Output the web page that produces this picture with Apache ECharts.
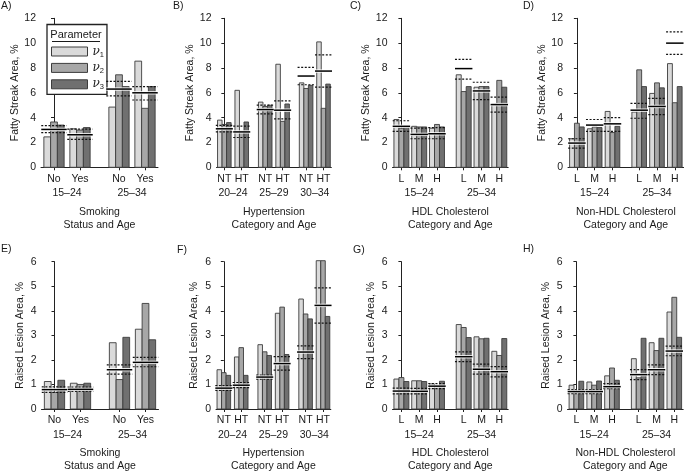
<!DOCTYPE html>
<html><head><meta charset="utf-8">
<script src="https://cdn.jsdelivr.net/npm/echarts@6/dist/echarts.min.js"></script>
<style>html,body{margin:0;padding:0;background:#fff}#c{width:684px;height:474px}</style>
</head><body><div id="c"></div>
<script>
// ================= DATA =================
const SERIES_NAMES = ['ν1', 'ν2', 'ν3'];

// A) Smoking status and age – fatty streak
const A_cats = ['No', 'Yes', 'No', 'Yes'];
const A_ages = ['15–24', '25–34'];
const A_v1 = [2.45, 3.1, 4.85, 8.55];
const A_v2 = [3.65, 3.0, 7.45, 4.75];
const A_v3 = [3.4, 3.2, 6.5, 6.5];
const A_mean = [3.05, 2.62, 6.3, 6.0];
const A_lo = [2.8, 2.25, 5.75, 5.42];
const A_hi = [3.35, 3.08, 6.92, 6.5];

// B) Hypertension category and age – fatty streak
const B_cats = ['NT', 'HT', 'NT', 'HT', 'NT', 'HT'];
const B_ages = ['20–24', '25–29', '30–34'];
const B_v1 = [3.8, 6.2, 5.25, 8.3, 6.8, 10.1];
const B_v2 = [3.45, 2.9, 4.9, 3.7, 6.35, 4.75];
const B_v3 = [3.6, 3.65, 5.0, 5.1, 6.6, 6.7];
const B_mean = [3.1, 2.85, 4.65, 4.6, 7.35, 7.75];
const B_lo = [2.85, 2.4, 4.3, 3.9, 6.65, 6.45];
const B_hi = [3.38, 3.32, 5.0, 5.35, 8.05, 9.05];

// C) HDL cholesterol category and age – fatty streak
const C_cats = ['L', 'M', 'H', 'L', 'M', 'H'];
const C_ages = ['15–24', '25–34'];
const C_v1 = [3.85, 3.3, 3.15, 7.45, 6.45, 5.1];
const C_v2 = [3.15, 3.25, 3.45, 6.1, 6.5, 7.0];
const C_v3 = [3.3, 3.25, 3.25, 6.5, 6.5, 6.45];
const C_mean = [3.3, 2.65, 2.7, 7.95, 6.15, 5.05];
const C_lo = [2.9, 2.3, 2.3, 7.1, 5.45, 4.45];
const C_hi = [3.75, 3.15, 3.2, 8.7, 6.85, 5.65];

// D) Non-HDL cholesterol category and age – fatty streak
const D_cats = ['L', 'M', 'H', 'L', 'M', 'H'];
const D_ages = ['15–24', '25–34'];
const D_v1 = [2.3, 3.1, 4.5, 4.45, 5.95, 8.35];
const D_v2 = [3.55, 3.25, 2.8, 7.85, 6.8, 5.2];
const D_v3 = [3.25, 3.2, 3.3, 6.5, 6.4, 6.5];
const D_mean = [1.95, 3.4, 3.5, 4.6, 4.9, 10.0];
const D_lo = [1.55, 2.9, 2.9, 3.95, 4.25, 9.1];
const D_hi = [2.3, 3.85, 4.0, 5.15, 5.55, 10.9];

// E) Smoking status and age – raised lesion
const E_cats = ['No', 'Yes', 'No', 'Yes'];
const E_ages = ['15–24', '25–34'];
const E_v1 = [1.12, 1.05, 2.7, 3.25];
const E_v2 = [0.68, 1.0, 1.2, 4.3];
const E_v3 = [1.17, 1.05, 2.92, 2.82];
const E_mean = [0.79, 0.8, 1.6, 1.9];
const E_lo = [0.68, 0.72, 1.42, 1.72];
const E_hi = [0.9, 0.89, 1.8, 2.1];

// F) Hypertension category and age – raised lesion
const F_cats = ['NT', 'HT', 'NT', 'HT', 'NT', 'HT'];
const F_ages = ['20–24', '25–29', '30–34'];
const F_v1 = [1.6, 2.12, 2.62, 3.9, 4.48, 7.3];
const F_v2 = [1.48, 2.5, 2.33, 4.15, 3.87, 6.6];
const F_v3 = [1.37, 1.37, 2.18, 2.22, 3.67, 3.77];
const F_mean = [0.85, 0.97, 1.3, 1.85, 2.32, 4.22];
const F_lo = [0.76, 0.87, 1.22, 1.58, 2.05, 3.5];
const F_hi = [0.95, 1.08, 1.38, 2.13, 2.57, 4.93];

// G) HDL cholesterol category and age – raised lesion
const G_cats = ['L', 'M', 'H', 'L', 'M', 'H'];
const G_ages = ['15–24', '25–34'];
const G_v1 = [1.22, 1.15, 1.02, 3.44, 2.94, 2.35];
const G_v2 = [1.28, 1.15, 0.96, 3.32, 2.86, 2.18];
const G_v3 = [1.12, 1.12, 1.13, 2.91, 2.88, 2.87];
const G_mean = [0.73, 0.72, 0.93, 2.13, 1.62, 1.52];
const G_lo = [0.62, 0.62, 0.83, 1.93, 1.42, 1.31];
const G_hi = [0.85, 0.84, 1.03, 2.33, 1.83, 1.73];

// H) Non-HDL cholesterol category and age – raised lesion
const H_cats = ['L', 'M', 'H', 'L', 'M', 'H'];
const H_ages = ['15–24', '25–34'];
const H_v1 = [0.97, 1.1, 1.35, 2.05, 2.7, 3.95];
const H_v2 = [0.7, 0.97, 1.67, 1.27, 2.38, 4.55];
const H_v3 = [1.13, 1.14, 1.17, 2.88, 2.88, 2.92];
const H_mean = [0.71, 0.71, 0.91, 1.4, 1.6, 2.36];
const H_lo = [0.63, 0.63, 0.83, 1.2, 1.4, 2.17];
const H_hi = [0.79, 0.79, 1.03, 1.6, 1.8, 2.56];

const FS_NAME = 'Fatty Streak Area, %';
const RL_NAME = 'Raised Lesion Area, %';
const FS_TICKS = [0, 12, 2];
const RL_TICKS = [0, 6, 1];

// ================= LAYOUT / STYLE =================
const FONT = 'Liberation Sans, Arial, sans-serif';
const TXT = '#1a1a1a';
const FS = 10.5;
const FILLS = ['#dadada', '#a7a7a7', '#707070'];
const EDGE = '#3c3c3c';

const panels = [
  {letter:'A)', cats:A_cats, ages:A_ages, v:[A_v1,A_v2,A_v3], mean:A_mean, lo:A_lo, hi:A_hi, title:'Smoking\nStatus and Age', y:FS_NAME, t:FS_TICKS, row:0, left:41,  unit:26,   gap:0.5,  pad:0.5,  barFrac:0.78, lx:1,   ly:7},
  {letter:'B)', cats:B_cats, ages:B_ages, v:[B_v1,B_v2,B_v3], mean:B_mean, lo:B_lo, hi:B_hi, title:'Hypertension\nCategory and Age', y:FS_NAME, t:FS_TICKS, row:0, left:216.5, unit:17.4, gap:0.35, pad:0.45, barFrac:0.78, lx:173, ly:7},
  {letter:'C)', cats:C_cats, ages:C_ages, v:[C_v1,C_v2,C_v3], mean:C_mean, lo:C_lo, hi:C_hi, title:'HDL Cholesterol\nCategory and Age', y:FS_NAME, t:FS_TICKS, row:0, left:392.5, unit:17.8, gap:0.5, pad:0.5, barFrac:0.84, lx:350, ly:7},
  {letter:'D)', cats:D_cats, ages:D_ages, v:[D_v1,D_v2,D_v3], mean:D_mean, lo:D_lo, hi:D_hi, title:'Non-HDL Cholesterol\nCategory and Age', y:FS_NAME, t:FS_TICKS, row:0, left:568, unit:17.8, gap:0.5, pad:0.5, barFrac:0.82, lx:523, ly:7},
  {letter:'E)', cats:E_cats, ages:E_ages, v:[E_v1,E_v2,E_v3], mean:E_mean, lo:E_lo, hi:E_hi, title:'Smoking\nStatus and Age', y:RL_NAME, t:RL_TICKS, row:1, left:41.5, unit:26, gap:0.5, pad:0.5, barFrac:0.78, lx:1, ly:250},
  {letter:'F)', cats:F_cats, ages:F_ages, v:[F_v1,F_v2,F_v3], mean:F_mean, lo:F_lo, hi:F_hi, title:'Hypertension\nCategory and Age', y:RL_NAME, t:RL_TICKS, row:1, left:216, unit:17.4, gap:0.35, pad:0.45, barFrac:0.78, lx:177, ly:251},
  {letter:'G)', cats:G_cats, ages:G_ages, v:[G_v1,G_v2,G_v3], mean:G_mean, lo:G_lo, hi:G_hi, title:'HDL Cholesterol\nCategory and Age', y:RL_NAME, t:RL_TICKS, row:1, left:392.5, unit:17.8, gap:0.5, pad:0.5, barFrac:0.84, lx:353, ly:251},
  {letter:'H)', cats:H_cats, ages:H_ages, v:[H_v1,H_v2,H_v3], mean:H_mean, lo:H_lo, hi:H_hi, title:'Non-HDL Cholesterol\nCategory and Age', y:RL_NAME, t:RL_TICKS, row:1, left:567.5, unit:17.8, gap:0.5, pad:0.5, barFrac:0.82, lx:523, ly:250}
];
const ROWS = [{top:18.3, height:149}, {top:261.7, height:149.3}];

const grid = [], xAxis = [], yAxis = [], series = [], graphic = [];

function matchLabel(pos, labels) {
  return function (v) {
    for (let i = 0; i < pos.length; i++) if (Math.abs(pos[i] - v) < 1e-6) return labels[i];
    return '';
  };
}

function makeBarRender(k, frac) {
  return function (params, api) {
    const x = api.value(0), val = api.value(1);
    const base = api.coord([x, 0]);
    const top = api.coord([x, val]);
    const band = api.size([1, 0])[0];
    const bw = band * frac / 3;
    const x0 = base[0] - 1.5 * bw + k * bw;
    const cs = params.coordSys;
    const r = echarts.graphic.clipRectByRect(
      {x: x0, y: top[1], width: bw, height: base[1] - top[1]},
      {x: cs.x, y: cs.y - 1, width: cs.width, height: cs.height + 1});
    if (!r) return null;
    return {type: 'rect', shape: r, style: {fill: FILLS[k], stroke: EDGE, lineWidth: 0.9}};
  };
}

function lineRender(params, api) {
  const x = api.value(0);
  const band = api.size([1, 0])[0];
  const half = band * 0.98 / 2;
  const c = api.coord([x, api.value(1)]);
  const l = api.coord([x, api.value(2)]);
  const h = api.coord([x, api.value(3)]);
  const seg = (y, style) => ({type: 'line', shape: {x1: c[0] - half, y1: y, x2: c[0] + half, y2: y}, style: style});
  const dot = {stroke: '#111', lineWidth: 1.2, lineDash: [2, 1.6]};
  return {type: 'group', children: [
    seg(h[1], dot), seg(l[1], dot),
    seg(c[1], {stroke: 'rgba(255,255,255,0.85)', lineWidth: 3.4}),
    seg(c[1], {stroke: '#000', lineWidth: 1.5})
  ]};
}

panels.forEach((p, pi) => {
  const gpa = p.cats.length / p.ages.length;
  const pos = p.cats.map((_, i) => i + Math.floor(i / gpa) * p.gap);
  const agePos = p.ages.map((_, a) => (pos[a * gpa] + pos[a * gpa + gpa - 1]) / 2);
  const min = -p.pad, max = pos[pos.length - 1] + p.pad;
  const row = ROWS[p.row];
  grid.push({left: p.left, top: row.top, width: (max - min) * p.unit, height: row.height, containLabel: false});
  const axText = {color: TXT, fontSize: FS, fontFamily: FONT};
  xAxis.push({
    type: 'value', gridIndex: pi, min: min, max: max, position: 'bottom',
    axisLine: {show: true, onZero: false, lineStyle: {color: '#222', width: 1}},
    axisTick: {show: true, customValues: pos, length: 3, lineStyle: {color: '#222'}},
    axisLabel: Object.assign({customValues: pos, margin: 6, formatter: matchLabel(pos, p.cats)}, axText),
    splitLine: {show: false}
  });
  xAxis.push({
    type: 'value', gridIndex: pi, min: min, max: max, position: 'bottom',
    axisLine: {show: false}, axisTick: {show: false},
    axisLabel: Object.assign({customValues: agePos, margin: 20.5, formatter: matchLabel(agePos, p.ages)}, axText),
    splitLine: {show: false},
    name: p.title, nameLocation: 'middle', nameGap: 38,
    nameTextStyle: Object.assign({lineHeight: 13}, axText)
  });
  yAxis.push({
    type: 'value', gridIndex: pi, min: p.t[0], max: p.t[1], interval: p.t[2],
    axisLine: {show: true, lineStyle: {color: '#222', width: 1}},
    axisTick: {show: true, length: 3, lineStyle: {color: '#222'}},
    axisLabel: Object.assign({margin: 5}, axText),
    splitLine: {show: false},
    name: p.y, nameLocation: 'middle', nameGap: 16, nameTextStyle: axText
  });
  for (let k = 0; k < 3; k++) {
    series.push({
      type: 'custom', name: SERIES_NAMES[k], xAxisIndex: pi * 2, yAxisIndex: pi,
      renderItem: makeBarRender(k, p.barFrac), encode: {x: 0, y: 1},
      itemStyle: {color: FILLS[k], borderColor: EDGE, borderWidth: 1},
      data: p.v[k].map((val, i) => [pos[i], val]), z: 2, silent: true
    });
  }
  series.push({
    type: 'custom', name: 'ci' + pi, xAxisIndex: pi * 2, yAxisIndex: pi,
    renderItem: lineRender, encode: {x: 0, y: 1},
    data: p.mean.map((m, i) => [pos[i], m, p.lo[i], p.hi[i]]), z: 5, silent: true
  });
  graphic.push({type: 'text', left: p.lx, top: p.ly - 6, style: {text: p.letter, fill: TXT, font: FS + 'px ' + FONT}});
});

// legend title + underline
graphic.push({type: 'text', z: 100, x: 76, y: 29, style: {text: 'Parameter', fill: TXT, font: '11px ' + FONT, textAlign: 'center'}});
graphic.push({type: 'line', z: 100, shape: {x1: 52, y1: 41.5, x2: 100, y2: 41.5}, style: {stroke: TXT, lineWidth: 1}});

const chart = echarts.init(document.getElementById('c'), null, {renderer: 'canvas'});
chart.setOption({
  animation: false,
  backgroundColor: '#fff',
  grid: grid, xAxis: xAxis, yAxis: yAxis, series: series, graphic: graphic,
  legend: {
    left: 47, top: 24.5, orient: 'vertical', icon: 'rect',
    itemWidth: 36, itemHeight: 9, itemGap: 3.4,
    padding: [21, 3, 3, 4],
    backgroundColor: '#fff', borderColor: '#222', borderWidth: 1.3,
    selectedMode: false,
    data: SERIES_NAMES.map((n, k) => ({name: n, itemStyle: {color: FILLS[k], borderColor: EDGE, borderWidth: 1}})),
    formatter: n => '{n|ν}{s|' + n.slice(1) + '}',
    textStyle: {color: TXT, fontFamily: FONT, rich: {
      n: {fontSize: 12, fontStyle: 'italic', fontFamily: 'DejaVu Serif, serif', color: TXT},
      s: {fontSize: 7.5, color: TXT, padding: [6, 0, 0, 0], fontFamily: FONT}
    }}
  }
});
</script>
</body></html>
